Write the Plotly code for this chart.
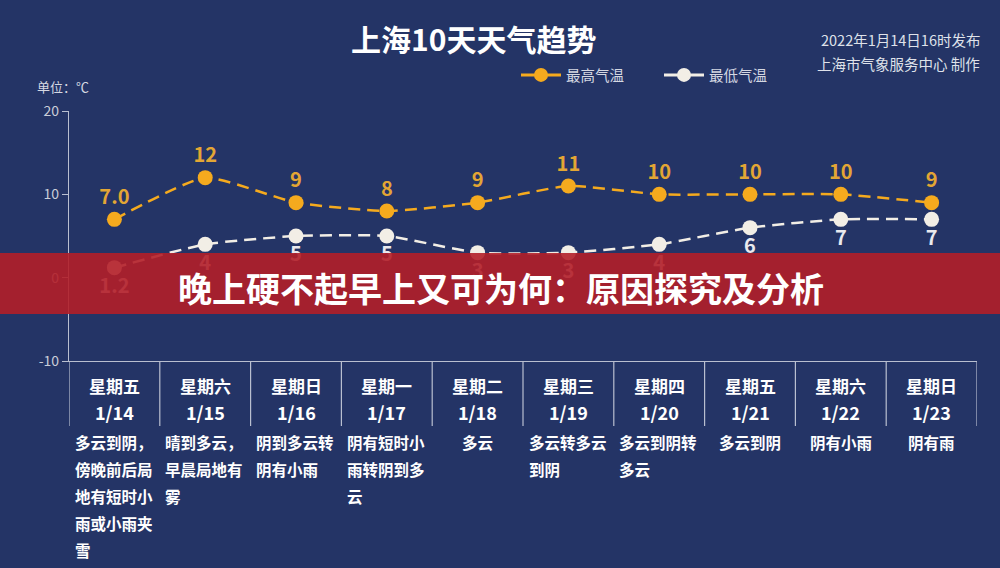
import plotly.graph_objects as go

days = ["星期五", "星期六", "星期日", "星期一", "星期二", "星期三", "星期四", "星期五", "星期六", "星期日"]
dates = ["1/14", "1/15", "1/16", "1/17", "1/18", "1/19", "1/20", "1/21", "1/22", "1/23"]
highs = [7.0, 12, 9, 8, 9, 11, 10, 10, 10, 9]
lows = [1.2, 4, 5, 5, 3, 3, 4, 6, 7, 7]
high_labels = ["7.0", "12", "9", "8", "9", "11", "10", "10", "10", "9"]
low_labels = ["1.2", "4", "5", "5", "3", "3", "4", "6", "7", "7"]
weather = [
    "多云到阴，\n傍晚前后局\n地有短时小\n雨或小雨夹\n雪",
    "晴到多云，\n早晨局地有\n雾",
    "阴到多云转\n阴有小雨",
    "阴有短时小\n雨转阴到多\n云",
    "多云",
    "多云转多云\n到阴",
    "多云到阴转\n多云",
    "多云到阴",
    "阴有小雨",
    "阴有雨",
]
y_ticks = [-10, 0, 10, 20]
y_tick_text = ["-10", "0", "10", "20"]

FONT = "Noto Sans CJK SC"
BG = "#243466"
ORANGE = "#f5aa1e"
ORANGE_TXT = "#e3a634"
WHITE_PT = "#f2eee6"
AXIS = "#b9bfd0"

W, H = 1000, 568
L, R, T, B = 69, 23, 111, 207
PW, PH = W - L - R, H - T - B


def py(p):  # pixel y -> paper y
    return (H - B - p) / PH


def px(p):  # pixel x -> paper x
    return (p - L) / PW


xs = list(range(len(days)))

fig = go.Figure()
fig.add_trace(go.Scatter(
    x=xs, y=highs, mode="lines+markers+text", name="最高气温",
    text=[f"<b>{t}</b>" for t in high_labels], textposition="top center",
    textfont=dict(family=FONT, size=20, color=ORANGE_TXT),
    line=dict(color=ORANGE, width=2.5, dash="12px,7px", shape="spline", smoothing=0.5),
    marker=dict(size=15, color=ORANGE), showlegend=False, cliponaxis=False,
))
fig.add_trace(go.Scatter(
    x=xs, y=lows, mode="lines+markers+text", name="最低气温",
    text=[f"<b>{t}</b>" for t in low_labels], textposition="bottom center",
    textfont=dict(family=FONT, size=20, color="#e9e9ee"),
    line=dict(color=WHITE_PT, width=2.5, dash="12px,7px", shape="spline", smoothing=0.5),
    marker=dict(size=15, color=WHITE_PT), showlegend=False, cliponaxis=False,
))
# legend entries (solid line)
fig.add_trace(go.Scatter(x=[None], y=[None], mode="lines+markers", name="最高气温",
                         line=dict(color=ORANGE, width=3), marker=dict(size=14, color=ORANGE)))
fig.add_trace(go.Scatter(x=[None], y=[None], mode="lines+markers", name="最低气温",
                         line=dict(color=WHITE_PT, width=3), marker=dict(size=14, color=WHITE_PT)))

shapes = []
# category separators below axis
for k in range(len(days) + 1):
    shapes.append(dict(type="line", xref="x", yref="paper", x0=k - 0.5, x1=k - 0.5,
                       y0=0, y1=py(426), line=dict(color=AXIS, width=1.2)))
# red banner
shapes.append(dict(type="rect", xref="paper", yref="paper", x0=px(0), x1=px(1000),
                   y0=py(314), y1=py(253), fillcolor="rgba(178,30,40,0.9)",
                   line=dict(width=0), layer="above"))

annotations = []
for i in xs:
    annotations.append(dict(xref="x", yref="paper", x=i, y=py(385), text=f"<b>{days[i]}</b>",
                            showarrow=False, font=dict(family=FONT, size=17, color="white"),
                            yanchor="middle"))
    annotations.append(dict(xref="x", yref="paper", x=i, y=py(412), text=f"<b>{dates[i]}</b>",
                            showarrow=False, font=dict(family=FONT, size=18, color="white"),
                            yanchor="middle"))
    lines = weather[i].split("\n")
    fs = 15.5
    if len(lines) == 1:
        annotations.append(dict(xref="x", yref="paper", x=i, y=py(442), text=f"<b>{lines[0]}</b>",
                                showarrow=False, font=dict(family=FONT, size=fs, color="white"),
                                yanchor="middle"))
    else:
        maxw = max(len(s) for s in lines) * fs
        for j, s in enumerate(lines):
            annotations.append(dict(xref="x", yref="paper", x=i, xshift=-maxw / 2 - 3,
                                    y=py(442 + 27 * j),
                                    text=f"<b>{s}</b>", showarrow=False, xanchor="left",
                                    font=dict(family=FONT, size=fs, color="white"),
                                    yanchor="middle"))

annotations += [
    dict(xref="paper", yref="paper", x=px(473), y=py(38), text="<b>上海10天天气趋势</b>",
         showarrow=False, font=dict(family=FONT, size=30, color="white"), yanchor="middle"),
    dict(xref="paper", yref="paper", x=px(982), y=py(40), text="2022年1月14日16时发布",
         showarrow=False, xanchor="right", yanchor="middle",
         font=dict(family=FONT, size=14.5, color="#dfe2ea")),
    dict(xref="paper", yref="paper", x=px(982), y=py(63), text="上海市气象服务中心 制作",
         showarrow=False, xanchor="right", yanchor="middle",
         font=dict(family=FONT, size=14.5, color="#dfe2ea")),
    dict(xref="paper", yref="paper", x=px(35), y=py(87), text="单位：℃",
         showarrow=False, xanchor="left", yanchor="middle",
         font=dict(family=FONT, size=13, color="#d5d8e2")),
    dict(xref="paper", yref="paper", x=px(501), y=py(287),
         text="<b>晚上硬不起早上又可为何：原因探究及分析</b>",
         showarrow=False, xanchor="center", yanchor="middle",
         font=dict(family=FONT, size=34, color="white")),
]

fig.update_layout(
    width=W, height=H,
    margin=dict(l=L, r=R, t=T, b=B),
    paper_bgcolor=BG, plot_bgcolor=BG,
    font=dict(family=FONT, color=AXIS),
    shapes=shapes, annotations=annotations,
    legend=dict(orientation="h", x=px(516), y=py(75), xanchor="left", yanchor="middle",
                font=dict(family=FONT, size=14.5, color="#d5d8e2"),
                bgcolor="rgba(0,0,0,0)", entrywidth=88, entrywidthmode="pixels",
                itemwidth=40),
    xaxis=dict(range=[-0.5, len(days) - 0.5], showgrid=False, zeroline=False,
               showticklabels=False, ticks="", showline=True, linecolor=AXIS, linewidth=1.2,
               fixedrange=True),
    yaxis=dict(range=[-10, 20], tickvals=y_ticks, ticktext=y_tick_text, showgrid=False,
               zeroline=False, showline=True, linecolor=AXIS, linewidth=1.2, ticks="outside",
               ticklen=6, tickcolor=AXIS, tickfont=dict(family=FONT, size=14, color="#c9cdd8"),
               fixedrange=True),
)

fig.write_html(
    "out.html",
    config={"displayModeBar": False},
    post_script="document.body.style.margin='0';document.body.style.padding='0';"
                "document.body.style.overflow='hidden';document.body.style.background='" + BG + "';",
)
